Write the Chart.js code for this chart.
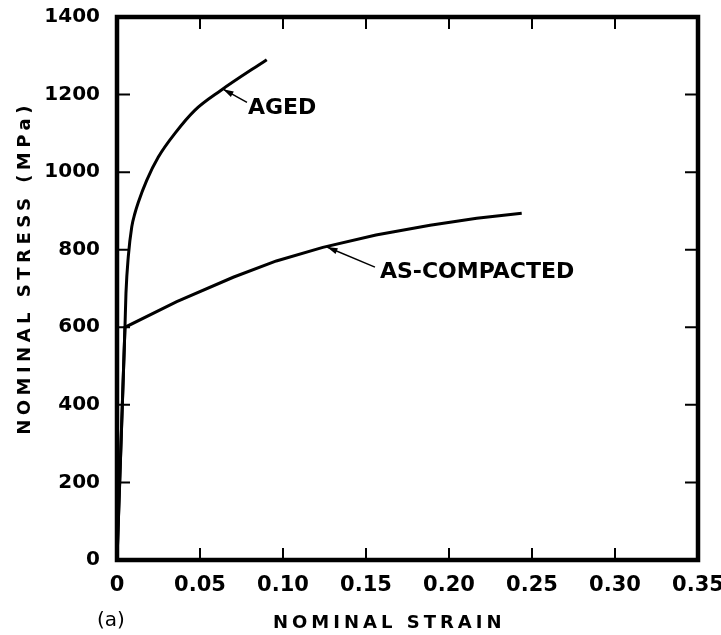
<!DOCTYPE html>
<html>
<head>
<meta charset="utf-8">
<script src="https://cdn.jsdelivr.net/npm/chart.js@4.4.0/dist/chart.umd.min.js"></script>
<style>
  html, body { margin: 0; padding: 0; background: #fff; }
  #wrap { width: 721px; height: 635px; }
</style>
</head>
<body>
<div id="wrap"><canvas id="stressChart"></canvas></div>
<script>
// Aged curve: nominal strain vs nominal stress (MPa)
const agedStrain = [0, 0.0048, 0.0054, 0.0068, 0.0089, 0.0108, 0.0128, 0.0179, 0.0249, 0.0349, 0.0470, 0.0623, 0.0902];
const agedStress = [0, 600, 688, 782, 859, 894, 922, 979, 1039, 1100, 1160, 1210, 1290];

// As-compacted curve
const compactedStrain = [0, 0.0048, 0.036, 0.070, 0.096, 0.124, 0.156, 0.1886, 0.2167, 0.2438];
const compactedStress = [0, 600, 666, 729, 771, 806, 838, 863, 881, 894];

// Axis ticks
const xTickValues = [0, 0.05, 0.10, 0.15, 0.20, 0.25, 0.30, 0.35];
const xTickLabels = ['0', '0.05', '0.10', '0.15', '0.20', '0.25', '0.30', '0.35'];
const yTickValues = [0, 200, 400, 600, 800, 1000, 1200, 1400];
const yTickLabels = ['0', '200', '400', '600', '800', '1000', '1200', '1400'];

// Callouts (data coordinates: strain, stress)
const calloutLabels = ['AGED', 'AS-COMPACTED'];
const calloutTips = [[0.0639, 1214], [0.1265, 807]];
const calloutTails = [[0.0783, 1180], [0.1554, 755]];
const calloutAnchors = [[0.0789, 1165], [0.1584, 742]];

const toPoints = (xs, ys) => xs.map((v, i) => ({ x: v, y: ys[i] }));

const frameAndNotes = {
    id: 'frameAndNotes',
    afterDraw(chart) {
        const { ctx, chartArea: a, scales: { x, y } } = chart;
        ctx.save();
        ctx.strokeStyle = '#000';
        ctx.fillStyle = '#000';

        // inward ticks on all four sides
        ctx.lineWidth = 2;
        ctx.beginPath();
        xTickValues.forEach(v => {
            const px = x.getPixelForValue(v);
            ctx.moveTo(px, a.bottom); ctx.lineTo(px, a.bottom - 12);
            ctx.moveTo(px, a.top); ctx.lineTo(px, a.top + 12);
        });
        yTickValues.forEach(v => {
            const py = y.getPixelForValue(v);
            ctx.moveTo(a.left, py); ctx.lineTo(a.left + 13, py);
            ctx.moveTo(a.right, py); ctx.lineTo(a.right - 13, py);
        });
        ctx.stroke();

        // heavy frame
        ctx.lineWidth = 4.5;
        ctx.strokeRect(a.left, a.top, a.right - a.left, a.bottom - a.top);

        // callout arrows and labels
        ctx.lineWidth = 1.5;
        calloutLabels.forEach((label, i) => {
            const tx = x.getPixelForValue(calloutTips[i][0]);
            const ty = y.getPixelForValue(calloutTips[i][1]);
            const sx = x.getPixelForValue(calloutTails[i][0]);
            const sy = y.getPixelForValue(calloutTails[i][1]);
            ctx.beginPath();
            ctx.moveTo(sx, sy);
            ctx.lineTo(tx, ty);
            ctx.stroke();
            const ang = Math.atan2(ty - sy, tx - sx);
            ctx.beginPath();
            ctx.moveTo(tx, ty);
            ctx.lineTo(tx - 11 * Math.cos(ang - 0.28), ty - 11 * Math.sin(ang - 0.28));
            ctx.lineTo(tx - 11 * Math.cos(ang + 0.28), ty - 11 * Math.sin(ang + 0.28));
            ctx.closePath();
            ctx.fill();

            ctx.font = 'bold 22px "DejaVu Sans"';
            ctx.letterSpacing = '0px';
            ctx.textAlign = 'left';
            ctx.textBaseline = 'middle';
            ctx.fillText(label, x.getPixelForValue(calloutAnchors[i][0]), y.getPixelForValue(calloutAnchors[i][1]));
        });

        // axis titles
        ctx.font = 'bold 18px "DejaVu Sans"';
        ctx.letterSpacing = '4px';
        ctx.textBaseline = 'middle';
        ctx.textAlign = 'left';
        ctx.fillText('NOMINAL STRAIN', 273, 623);
        ctx.font = '20px "DejaVu Sans"';
        ctx.letterSpacing = '0px';
        ctx.fillText('(a)', 97, 621);

        ctx.font = 'bold 18px "DejaVu Sans"';
        ctx.letterSpacing = '4.5px';
        ctx.translate(25, 268);
        ctx.rotate(-Math.PI / 2);
        ctx.textAlign = 'center';
        ctx.fillText('NOMINAL STRESS (MPa)', 0, 0);
        ctx.restore();
    }
};

const ctx = document.getElementById('stressChart').getContext('2d');
new Chart(ctx, {
    type: 'line',
    data: {
        datasets: [{
            label: 'Aged',
            data: toPoints(agedStrain, agedStress),
            borderColor: '#000',
            borderWidth: 3,
            pointRadius: 0,
            cubicInterpolationMode: 'monotone'
        }, {
            label: 'As-compacted',
            data: toPoints(compactedStrain, compactedStress),
            borderColor: '#000',
            borderWidth: 3,
            pointRadius: 0,
            tension: 0
        }]
    },
    options: {
        responsive: true,
        maintainAspectRatio: false,
        animation: false,
        events: [],
        layout: { padding: { top: 17, right: 23, bottom: 0, left: 0 } },
        plugins: {
            legend: { display: false },
            tooltip: { enabled: false }
        },
        scales: {
            x: {
                type: 'linear',
                min: 0,
                max: 0.35,
                afterBuildTicks: s => { s.ticks = xTickValues.map(v => ({ value: v })); },
                afterFit: s => { s.height = 75; s.paddingLeft = 0; s.paddingRight = 0; },
                grid: { display: false, drawTicks: false },
                border: { display: false },
                ticks: {
                    padding: 13,
                    color: '#000',
                    font: { family: 'DejaVu Sans', size: 21, weight: 'bold' },
                    maxRotation: 0,
                    autoSkip: false,
                    callback: (v, i) => xTickLabels[i]
                }
            },
            y: {
                min: 0,
                max: 1400,
                afterBuildTicks: s => { s.ticks = yTickValues.map(v => ({ value: v })); },
                afterFit: s => { s.width = 117; s.paddingTop = 0; s.paddingBottom = 0; },
                grid: { display: false, drawTicks: false },
                border: { display: false },
                ticks: {
                    padding: 17,
                    color: '#000',
                    font: { family: 'DejaVu Sans', size: 20, weight: 'bold' },
                    callback: (v, i) => yTickLabels[i]
                }
            }
        }
    },
    plugins: [frameAndNotes]
});
</script>
</body>
</html>
